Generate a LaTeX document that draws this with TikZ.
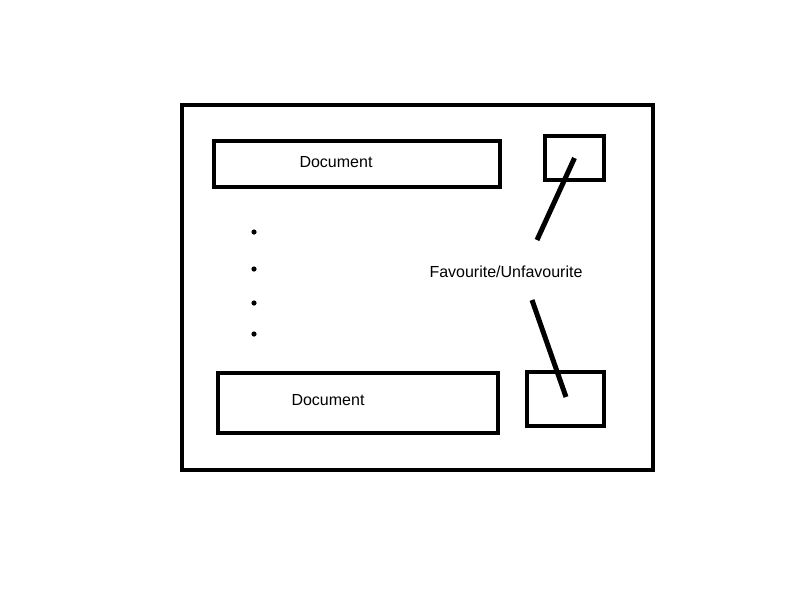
\documentclass[tikz,border=0pt]{standalone}
\usepackage{fontspec}
\setmainfont{Liberation Sans}
\usetikzlibrary{positioning}

\begin{document}
\begin{tikzpicture}[x=1pt, y=-1pt,
    frame/.style={draw, line width=4pt, inner sep=0pt},
    docbox/.style={draw, line width=4pt, inner sep=0pt},
    favbox/.style={draw, line width=4pt, inner sep=0pt},
    txt/.style={font=\fontsize{16}{19}\selectfont, inner sep=0pt},
    link/.style={line width=5pt}]
    \useasboundingbox (0,0) rectangle (800,600);
    % outer page
    \node[frame, minimum width=471pt, minimum height=365pt] (page) at (417.5,287.5) {};
    % document rows
    \node[docbox, minimum width=286pt, minimum height=46pt] (docA) at (357,164) {};
    \node[docbox, minimum width=280pt, minimum height=60pt] (docB) at (358,403) {};
    \node[txt] (docAtxt) at (336,162) {Document};
    \node[txt] (docBtxt) at (328,400) {Document};
    % favourite buttons
    \node[favbox, minimum width=59pt, minimum height=44pt] (favA) at (574.5,158) {};
    \node[favbox, minimum width=77pt, minimum height=54pt] (favB) at (565.5,399) {};
    \node[txt] (favlbl) at (506,272) {Favourite/Unfavourite};
    % dots between the rows
    \foreach \y in {232,269,303,334}
        \fill (254,\y) circle (2.6pt);
    % pointers from the label
    \coordinate (ptA) at (537,240);
    \coordinate (ptB) at (532,300);
    \draw[link] (ptA) -- (favA.center);
    \draw[link] (ptB) -- (566,397);
\end{tikzpicture}
\end{document}
